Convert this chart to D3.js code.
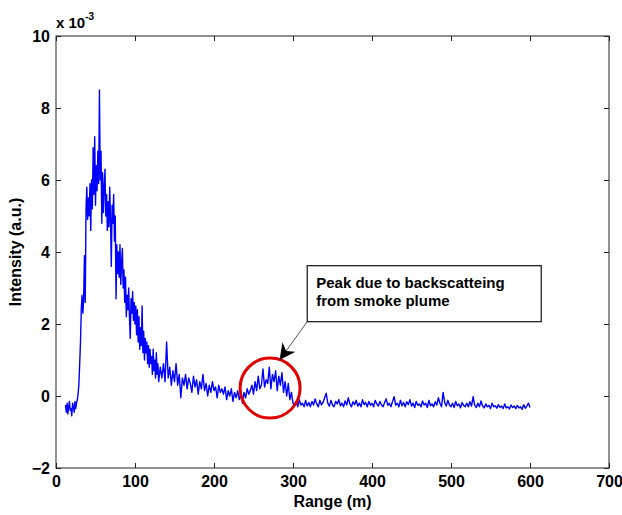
<!DOCTYPE html>
<html>
<head>
<meta charset="utf-8">
<script src="https://cdn.jsdelivr.net/npm/d3@7"></script>
<style>
  html, body { margin: 0; padding: 0; background: #fff; }
</style>
</head>
<body>
<div id="chart"></div>
<script>
// intensity values are in units of 1e-3 (a.u.)
const xTicks = [0, 100, 200, 300, 400, 500, 600, 700];
const yTicks = [-2, 0, 2, 4, 6, 8, 10];

// near field: 12 m .. 130 m, every 1 m
const nearStart = 12;
const nearStep = 1;
const nearField = [
  -0.25, -0.45, -0.2, -0.5, -0.3, -0.15, -0.4, -0.35, -0.55, -0.2,
  -0.3, -0.45, -0.15, -0.35, -0.2, -0.1, 0.05, 0.35,
  0.9, 1.5, 2.4, 2.8, 2.3, 2.7, 3.9, 2.6, 5.2, 5.8,
  4.9, 5.5, 5.0, 5.9, 4.6, 6.0, 5.2, 6.9, 5.6, 7.2,
  5.3, 6.4, 5.7, 6.8, 5.9, 8.5, 6.0, 6.8, 4.8, 6.2,
  5.1, 5.8, 6.3, 5.0, 5.6, 4.6, 5.4, 4.7, 5.8, 4.9,
  3.6, 5.3, 4.8, 5.6, 4.3, 5.0, 2.7, 4.2, 3.4, 4.0,
  3.3, 4.2, 3.1, 3.7, 4.1, 3.0, 3.5, 2.6, 3.3, 2.2,
  2.8, 2.4, 3.0, 2.2, 1.6, 2.7, 2.3, 2.9, 2.1, 2.6,
  2.0, 2.5, 1.7, 2.4, 1.5, 2.2, 1.3, 1.9, 1.4, 2.5,
  1.2, 1.8, 1.0, 1.6, 1.2, 1.5, 0.9, 1.4, 0.8, 1.3,
  0.9, 1.1, 0.6, 1.3, 0.7, 1.0, 0.5, 1.2, 0.6, 0.9,
  0.4
];

// decay tail: 132 m .. 236 m, every 2 m
const tailStart = 132;
const tailStep = 2;
const decayTail = [
  0.8, 0.5, 0.9, 0.4, 1.5, 0.5, 0.8, 0.3, 0.7, 0.4,
  0.9, 0.3, 0.6, -0.05, 0.5,
  0.3, 0.6, 0.2, 0.5, 0.35, 0.1, 0.55, 0.25, 0.45, 0.05,
  0.4, 0.2, 0.6, 0.15, 0.35, 0.0, 0.3, 0.1, 0.4, 0.15,
  0.25, -0.05, 0.3, 0.1, 0.2,
  0.05, 0.25, -0.1, 0.15, 0.0, 0.2, -0.15, 0.1, -0.05, 0.15,
  -0.1, 0.05, -0.2
];

// smoke plume bump: 238 m .. 300 m, every 2 m
const plumeStart = 238;
const plumeStep = 2;
const plumeBump = [
  0.1, -0.05, 0.2, 0.05, 0.15, 0.3, 0.05, 0.4, 0.15, 0.55,
  0.2, 0.3, 0.75, 0.25, 0.45, 0.35, 0.8, 0.2, 0.6, 0.4,
  0.7, 0.15, 0.55, 0.3, 0.65, 0.1, 0.4, 0.0, 0.35, -0.1,
  0.1, -0.2
];

// background: 302 m .. 600 m, every 2 m
const bgStart = 302;
const bgStep = 2;
const background = [
  -0.25, -0.15, -0.3, -0.1, -0.25, -0.2, -0.3, -0.12, -0.28, -0.18,
  -0.3, -0.15, -0.25, -0.08, -0.22, -0.3, -0.12, -0.25, -0.18, -0.05,
  0.08, -0.2, -0.28, -0.12, -0.25, -0.3, -0.15, -0.22, -0.1, -0.27,
  -0.2, -0.3, -0.14, -0.25, -0.05, -0.22, -0.3, -0.16, -0.24, -0.12,
  -0.28, -0.2, -0.3, -0.1, -0.24, -0.18, -0.3, -0.15, -0.26, -0.2,
  -0.3, -0.12, -0.22, -0.28, -0.15, -0.25, -0.3, -0.18, -0.08, -0.26,
  -0.2, -0.3, -0.15, -0.02, -0.25, -0.2, -0.3, -0.12, -0.27, -0.18,
  -0.3, -0.16, -0.24, -0.1, -0.28, -0.2, -0.32, -0.15, -0.26, -0.22,
  -0.3, -0.14, -0.25, -0.2, -0.32, -0.12, -0.27, -0.22, -0.3, -0.16,
  -0.25, -0.05, -0.2, -0.3, 0.1, -0.18, -0.28, -0.12, -0.25, -0.3,
  -0.2, -0.32, -0.15, -0.27, -0.22, -0.33, -0.18, -0.26, -0.3, -0.2,
  -0.3, -0.16, -0.28, -0.02, -0.25, -0.32, -0.2, -0.3, -0.14, -0.28,
  -0.33, -0.22, -0.3, -0.26, -0.35, -0.2, -0.3, -0.27, -0.34, -0.24,
  -0.32, -0.28, -0.35, -0.22, -0.33, -0.3, -0.36, -0.25, -0.32, -0.28,
  -0.35, -0.26, -0.33, -0.3, -0.37, -0.24, -0.34, -0.28, -0.2, -0.32
];

// annotation (data coordinates)
const noteLines = ["Peak due to backscatteing", "from smoke plume"];
const notePos = { range: 318, value: 3.62 };
const arrowTip = { range: 283, value: 1.0 };
const circlePos = { range: 271, value: 0.22 };

const width = 622;
const height = 515;
const marginTop = 36;
const marginRight = 13;
const marginBottom = 47;
const marginLeft = 56;

const font = "'Liberation Sans', Arial, Helvetica, sans-serif";
const axisColor = "#222";
const tickLen = 5;

function segment(start, step, values) {
  return values.map((v, i) => ({ range: start + i * step, value: v }));
}

const trace = [
  ...segment(nearStart, nearStep, nearField),
  ...segment(tailStart, tailStep, decayTail),
  ...segment(plumeStart, plumeStep, plumeBump),
  ...segment(bgStart, bgStep, background)
];

const svg = d3
  .create("svg")
  .attr("viewBox", [0, 0, width, height])
  .attr("width", width)
  .attr("height", height)
  .style("font-family", font)
  .style("display", "block");

svg.append("rect").attr("width", width).attr("height", height).attr("fill", "#fff");

const x = d3.scaleLinear().domain([0, 700]).range([marginLeft, width - marginRight]);
const y = d3.scaleLinear().domain([-2, 10]).range([height - marginBottom, marginTop]);

// trace
const line = d3.line().x((d) => x(d.range)).y((d) => y(d.value));
svg.append("path")
  .datum(trace)
  .attr("fill", "none")
  .attr("stroke", "#0000ff")
  .attr("stroke-width", 1.4)
  .attr("stroke-linejoin", "round")
  .attr("d", line);

// axes (MATLAB style box, ticks inward)
function styleAxis(g) {
  g.select(".domain").remove();
  g.selectAll(".tick line").attr("stroke", axisColor);
  g.selectAll(".tick text")
    .attr("fill", "#000")
    .attr("font-family", font)
    .attr("font-size", 16)
    .attr("font-weight", "bold");
}

svg.append("g")
  .attr("transform", `translate(0,${height - marginBottom})`)
  .call(d3.axisBottom(x).tickValues(xTicks).tickSize(-tickLen).tickPadding(8))
  .call(styleAxis);

svg.append("g")
  .attr("transform", `translate(0,${marginTop})`)
  .call(d3.axisTop(x).tickValues(xTicks).tickSize(-tickLen).tickFormat(""))
  .call(styleAxis);

svg.append("g")
  .attr("transform", `translate(${marginLeft},0)`)
  .call(d3.axisLeft(y).tickValues(yTicks).tickSize(-tickLen).tickPadding(6))
  .call(styleAxis);

svg.append("g")
  .attr("transform", `translate(${width - marginRight},0)`)
  .call(d3.axisRight(y).tickValues(yTicks).tickSize(-tickLen).tickFormat(""))
  .call(styleAxis);

svg.append("rect")
  .attr("x", marginLeft)
  .attr("y", marginTop)
  .attr("width", width - marginLeft - marginRight)
  .attr("height", height - marginTop - marginBottom)
  .attr("fill", "none")
  .attr("stroke", axisColor)
  .attr("stroke-width", 1);

// exponent label
const expo = svg.append("text")
  .attr("x", marginLeft)
  .attr("y", marginTop - 8)
  .attr("font-size", 15)
  .attr("font-weight", "bold");
expo.append("tspan").text("x 10");
expo.append("tspan").attr("font-size", 10).attr("dy", -8).text("-3");

// axis labels
svg.append("text")
  .attr("x", (marginLeft + width - marginRight) / 2)
  .attr("y", height - 8)
  .attr("text-anchor", "middle")
  .attr("font-size", 16)
  .attr("font-weight", "bold")
  .text("Range (m)");

svg.append("text")
  .attr("transform", `translate(21,${(marginTop + height - marginBottom) / 2}) rotate(-90)`)
  .attr("text-anchor", "middle")
  .attr("font-size", 16)
  .attr("font-weight", "bold")
  .text("Intensity (a.u.)");

// annotation: circle, arrow, text box
svg.append("circle")
  .attr("cx", x(circlePos.range))
  .attr("cy", y(circlePos.value))
  .attr("r", 30)
  .attr("fill", "none")
  .attr("stroke", "#e00000")
  .attr("stroke-width", 3);

const boxW = 234;
const boxH = 56;
const bx = x(notePos.range);
const by = y(notePos.value);

svg.append("defs")
  .append("marker")
  .attr("id", "arrowhead")
  .attr("viewBox", "0 0 10 10")
  .attr("refX", 10)
  .attr("refY", 5)
  .attr("markerWidth", 16)
  .attr("markerHeight", 16)
  .attr("markerUnits", "userSpaceOnUse")
  .attr("orient", "auto")
  .append("path")
  .attr("d", "M0,0 L10,5 L0,10 L3,5 Z")
  .attr("fill", "#000");

svg.append("line")
  .attr("x1", bx)
  .attr("y1", by + boxH)
  .attr("x2", x(arrowTip.range))
  .attr("y2", y(arrowTip.value))
  .attr("stroke", "#555")
  .attr("stroke-width", 1)
  .attr("marker-end", "url(#arrowhead)");

svg.append("rect")
  .attr("x", bx)
  .attr("y", by)
  .attr("width", boxW)
  .attr("height", boxH)
  .attr("fill", "#fff")
  .attr("stroke", "#111")
  .attr("stroke-width", 1.2);

svg.append("g")
  .selectAll("text")
  .data(noteLines)
  .join("text")
  .attr("x", bx + 9)
  .attr("y", (d, i) => by + 22 + i * 18)
  .attr("font-size", 15)
  .attr("font-weight", "bold")
  .text((d) => d);

document.getElementById("chart").appendChild(svg.node());
</script>
</body>
</html>
